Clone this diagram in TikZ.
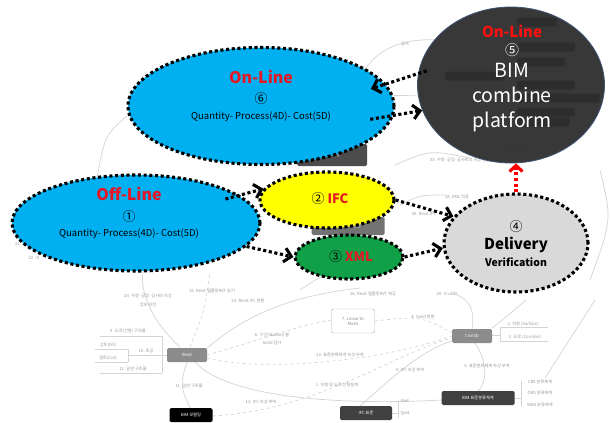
\documentclass[tikz,border=0pt]{standalone}
\usepackage{fontspec}
\setmainfont{Noto Sans CJK KR}
\usetikzlibrary{arrows.meta,shapes.geometric}

\begin{document}
\begin{tikzpicture}[x=1pt,y=-1pt,
    dotline/.style={line width=3.1pt, dash pattern=on 3.1pt off 2.6pt},
    bubble/.style={ellipse, draw, dotline, inner sep=0pt},
    flow/.style={dotline, -{Straight Barb[length=7pt,width=14pt]}},
    mapline/.style={black!17, line width=0.7pt},
    maptext/.style={black!40, inner sep=0pt, font=\fontsize{4.2}{5}\selectfont},
    mapbox/.style={rounded corners=1.5pt, inner sep=0pt, text=white,
        font=\fontsize{4.2}{5}\selectfont, minimum height=14pt}]
    % Define colors
    \definecolor{skyblue}{RGB}{0,176,240}
    \definecolor{linered}{RGB}{228,24,36}
    \definecolor{brightred}{RGB}{255,16,16}
    \definecolor{ifcyellow}{RGB}{255,255,0}
    \definecolor{xmlgreen}{RGB}{16,160,72}
    \definecolor{delivgrey}{RGB}{217,217,217}
    \definecolor{bimfill}{RGB}{40,40,40}
    \definecolor{bimedge}{RGB}{62,84,116}

    \useasboundingbox (0,0) rectangle (611,423);
    \fill[white] (0,0) rectangle (611,423);

    % Faded mind map in the background
    \draw[mapline] (128,115) .. controls (105,135) .. (97,178);
    \draw[mapline] (180,347) .. controls (150,320) and (140,290) .. (143,272);
    \draw[mapline, dashed] (190,347) .. controls (205,310) .. (210,272);
    \draw[mapline] (205,350) .. controls (250,310) and (300,295) .. (360,288);
    \draw[mapline, dashed] (207,355) .. controls (260,340) and (300,325) .. (331,320);
    \draw[mapline, dashed] (207,358) .. controls (260,372) and (380,362) .. (452,336);
    \draw[mapline] (195,362) .. controls (230,400) and (350,405) .. (442,400);
    \draw[mapline] (187,362) .. controls (180,385) .. (190,408);
    \draw[mapline, dashed] (213,416) .. controls (320,410) and (400,350) .. (453,338);
    \draw[mapline, dashed] (375,321) .. controls (420,316) .. (453,333);
    \draw[mapline] (472,329) .. controls (475,310) and (470,300) .. (455,294);
    \draw[mapline] (492,328) .. controls (505,318) .. (526,300);
    \draw[mapline] (475,343) .. controls (490,365) and (485,385) .. (478,391);
    \draw[mapline] (360,406) .. controls (390,380) and (420,350) .. (455,340);
    \draw[mapline] (545,378) -- (595,300);
    \draw[mapline] (395,165) .. controls (430,150) .. (470,158);
    \draw[mapline] (365,70) .. controls (380,45) and (410,38) .. (440,40);
    \draw[mapline] (365,100) .. controls (390,95) .. (420,96);
    \draw[mapline] (600,170) .. controls (612,220) .. (590,280);
    \draw[mapline] (400,205) .. controls (420,195) .. (445,195);
    \draw[mapline] (300,290) .. controls (330,270) .. (380,268);
    % brackets of the map
    \draw[mapline] (167,355) -- (128,355) (162,336) -- (162,373)
        (100,336) -- (162,336) (100,373) -- (162,373)
        (128,349) -- (128,362) (95,349) -- (128,349) (95,362) -- (128,362);
    \draw[mapline] (492,335) -- (500,335) (500,327) -- (500,341)
        (500,327) -- (548,327) (500,341) -- (548,341);
    \draw[mapline] (392,413) -- (398,413) (398,401) -- (398,418);
    \draw[mapline] (515,398) -- (521,398) (521,381) -- (521,406);

    % map boxes
    \node[mapbox, fill=black!45, minimum width=40pt] (revit) at (187,355) {Revit};
    \node[mapbox, fill=black, minimum width=43pt] (bimmodel) at (191,415) {BIM 모델링};
    \node[mapbox, fill=black!45, minimum width=40pt] (civil) at (472,336) {Civil3D};
    \node[mapbox, draw=black!30, fill=white, text=black!45, align=center,
        minimum width=43pt, minimum height=24pt] (linmesh) at (353,321) {7. Linear to\\Mesh};
    \node[mapbox, fill=black!75, minimum width=52pt] (ifcstd) at (366,413) {IFC 표준};
    \node[mapbox, fill=black!75, minimum width=73pt] (bimstd) at (478,398) {BIM 표준분류체계};
    \node[mapbox, fill=black!70, minimum width=70pt, minimum height=22pt] (mergebox) at (332,155) {통합 시행};
    \node[mapbox, fill=black!55, minimum width=73pt, minimum height=18pt] (ifcbox) at (348,226) {Revit.IFC 변환};
    \foreach \bx/\by/\bw [count=\bi] in {537/22/40, 546/47/58, 541/62/48, 475/76/60,
        546/85/58, 558/98/83, 546/112/58, 543/122/53} {
        \node[mapbox, fill=black!55, minimum width=\bw pt, minimum height=9pt] (innerbox\bi) at (\bx,\by) {};
    }

    % map labels
    \foreach \tx/\ty/\tt [count=\ti] in {148/296/{23. 수량·공정·공사비 속성}, 148/305/{정보 저장},
        212/291/{15. Revit 템플릿RVT 읽기}, 248/301/{24. Revit.IFC 변환},
        128/331/{9. 도로(선형) 구조물}, 108/345/{성토(Fill)}, 108/358/{절토(Cut)},
        146/351/{10. 토공}, 133/369/{11. 일반 구조물}, 189/386/{11. 일반 구조물},
        261/402/{12. IFC 속성 부여}, 272/335/{6. 구간(Station) 별}, 272/343/{Solid 검사},
        373/294/{26. Revit 템플릿RVT 제공}, 447/294/{29. Civil3D}, 423/317/{4. Solid 변환},
        523/324/{2. 지형 (Surface)}, 525/337/{3. 도로 (Corridor)},
        340/355/{13. 표준분류체계 속성 부여}, 410/370/{4. IFC 속성 부여},
        487/366/{5. 표준분류체계 속성 부여}, 337/385/{1. 지형 및 도로 선형설계},
        405/401/{Fset}, 405/413/{Qset}, 540/382/{CBS 분류체계}, 540/393/{OBS 분류체계},
        540/405/{WBS 분류체계}, 460/160/{33. 수량·공정·공사비의 속성 통합},
        457/197/{28. XML 적용}, 424/214/{25. Revit.IFC},
        18/244/{21.}, 34/258/{22. 내}, 405/44/{공사}, 423/95/{공기}, 514/145/{34. 공사비 검사}} {
        \node[maptext] (maplbl\ti) at (\tx,\ty) {\tt};
    }

    % Main bubbles
    \node[bubble, fill=skyblue, minimum width=266pt, minimum height=117pt] (online) at (261,106) {};
    \node[bubble, fill=skyblue, minimum width=248pt, minimum height=96pt] (offline) at (136,223) {};
    \node[bubble, fill=ifcyellow, minimum width=134pt, minimum height=56pt] (ifc) at (327,200) {};
    \node[bubble, fill=xmlgreen, minimum width=108pt, minimum height=44pt] (xml) at (349,257) {};
    \node[bubble, fill=delivgrey, minimum width=144pt, minimum height=98pt] (deliv) at (516,243) {};
    \node[ellipse, draw=bimedge, line width=0.8pt, fill=bimfill, fill opacity=0.92,
        inner sep=0pt, minimum width=187pt, minimum height=156pt] (bim) at (511,85) {};

    % Texts of the bubbles
    \node[text=linered, font=\fontsize{16}{18}\selectfont\bfseries] (onlinehead) at (261,77) {On-Line};
    \node[font=\fontsize{13}{15}\selectfont] (onlinenum) at (261,99) {⑥};
    \node[font=\fontsize{9.5}{11}\selectfont] (onlinetext) at (261,117) {Quantity- Process(4D)- Cost(5D)};
    \node[text=linered, font=\fontsize{16}{18}\selectfont\bfseries] (offlinehead) at (129,194) {Off-Line};
    \node[font=\fontsize{13}{15}\selectfont] (offlinenum) at (129,217) {①};
    \node[font=\fontsize{9.5}{11}\selectfont] (offlinetext) at (129,234) {Quantity- Process(4D)- Cost(5D)};
    \node[font=\fontsize{13}{15}\selectfont] (ifctext) at (330,199) {②\ \textcolor{linered}{\bfseries IFC}};
    \node[font=\fontsize{13}{15}\selectfont] (xmltext) at (351,257) {③\ \textcolor{linered}{\bfseries XML}};
    \node[font=\fontsize{13}{15}\selectfont] (delivnum) at (516,227) {④};
    \node[font=\fontsize{15}{17}\selectfont\bfseries] (delivhead) at (516,245) {Delivery};
    \node[font=\fontsize{10.5}{12}\selectfont\bfseries] (delivtext) at (516,262) {Verification};
    \node[text=brightred, font=\fontsize{15}{17}\selectfont\bfseries] (bimhead) at (512,31) {On-Line};
    \node[text=white, font=\fontsize{14}{16}\selectfont] (bimnum) at (512,50) {⑤};
    \node[text=white, align=center, font=\fontsize{19.5}{25}\selectfont] (bimtext) at (512,98) {BIM\\combine\\platform};

    % Connectors
    \draw[flow, shorten <=-9pt, shorten >=-16pt] (bim.173) -- (online.10);
    \draw[flow, shorten <=-24pt] (online.-4) -- (bim.196);
    \draw[flow, shorten <=-15pt] (offline.15) -- (ifc.170);
    \draw[flow] (offline.-12) -- (xml.180);
    \draw[flow] (ifc.0) -- (deliv.157);
    \draw[flow] (xml.0) -- (deliv.184);
    \draw[dotline, draw=red, -{Straight Barb[length=6pt,width=13pt]}] (deliv.north) -- (deliv.north |- bim.south);
\end{tikzpicture}
\end{document}
